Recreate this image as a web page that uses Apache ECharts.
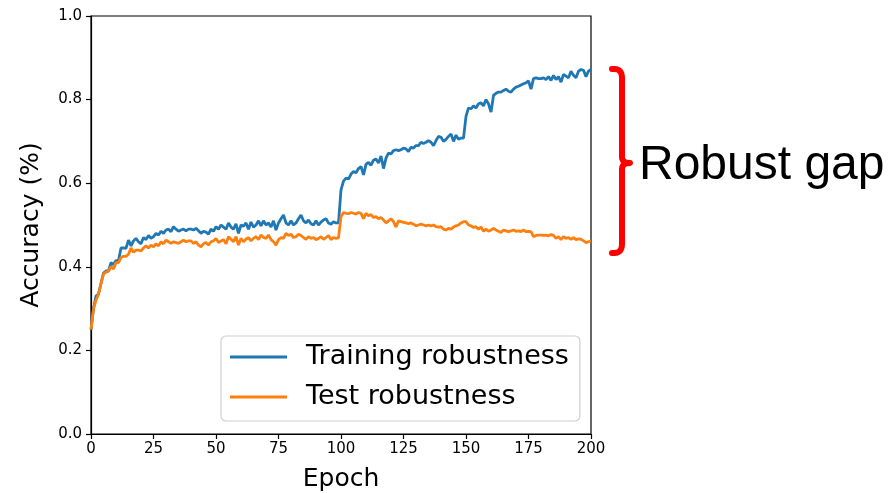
<!DOCTYPE html>
<html>
<head>
<meta charset="utf-8">
<script src="https://cdn.jsdelivr.net/npm/echarts@6/dist/echarts.min.js"></script>
<style>
  html, body { margin: 0; padding: 0; background: #fff; }
  #chart { width: 890px; height: 493px; }
</style>
</head>
<body>
<div id="chart"></div>
<script>
// Epochs 0..200
const epochs = Array.from({ length: 201 }, (_, i) => i);

const trainingRobustness = [
  0.25, 0.30, 0.33, 0.335, 0.36, 0.385, 0.39, 0.39, 0.41, 0.405,
  0.415, 0.415, 0.445, 0.445, 0.444, 0.464, 0.45, 0.462, 0.468, 0.46,
  0.455, 0.47, 0.465, 0.475, 0.468, 0.472, 0.48, 0.476, 0.485, 0.48,
  0.488, 0.49, 0.484, 0.496, 0.49, 0.485, 0.488, 0.49, 0.486, 0.49,
  0.49, 0.488, 0.492, 0.486, 0.48, 0.485, 0.483, 0.478, 0.49, 0.485,
  0.496, 0.49, 0.50, 0.495, 0.49, 0.505, 0.495, 0.49, 0.503, 0.48,
  0.50, 0.497, 0.505, 0.49, 0.507, 0.495, 0.50, 0.51, 0.498, 0.51,
  0.50, 0.505, 0.495, 0.51, 0.488, 0.505, 0.515, 0.524, 0.505, 0.50,
  0.51, 0.50, 0.505, 0.515, 0.524, 0.51, 0.505, 0.512, 0.503, 0.50,
  0.51, 0.50, 0.507, 0.512, 0.515, 0.505, 0.502, 0.508, 0.505, 0.505,
  0.584, 0.605, 0.612, 0.61, 0.622, 0.628, 0.625, 0.635, 0.64, 0.62,
  0.645, 0.65, 0.643, 0.655, 0.658, 0.648, 0.665, 0.635, 0.66, 0.672,
  0.67, 0.678, 0.68, 0.678, 0.68, 0.684, 0.682, 0.676, 0.686, 0.684,
  0.69, 0.69, 0.698, 0.695, 0.698, 0.702, 0.698, 0.69, 0.702, 0.712,
  0.71, 0.70, 0.705, 0.712, 0.718, 0.70, 0.715, 0.705, 0.708, 0.708,
  0.76, 0.78, 0.778, 0.785, 0.78, 0.79, 0.792, 0.785, 0.80, 0.79,
  0.77, 0.81, 0.815, 0.818, 0.818, 0.822, 0.825, 0.82, 0.818, 0.825,
  0.83, 0.832, 0.835, 0.838, 0.84, 0.845, 0.825, 0.85, 0.852, 0.85,
  0.85, 0.852, 0.848, 0.855, 0.846, 0.858, 0.848, 0.855, 0.842, 0.86,
  0.856, 0.852, 0.868, 0.858, 0.852, 0.868, 0.872, 0.87, 0.855, 0.868,
  0.872
];

const testRobustness = [
  0.25, 0.30, 0.32, 0.335, 0.36, 0.383, 0.387, 0.39, 0.40, 0.395,
  0.41, 0.41, 0.422, 0.425, 0.425, 0.43, 0.445, 0.435, 0.44, 0.44,
  0.438, 0.445, 0.45, 0.445, 0.452, 0.448, 0.455, 0.45, 0.46, 0.455,
  0.464, 0.46, 0.456, 0.46, 0.458, 0.456, 0.46, 0.464, 0.46, 0.462,
  0.462, 0.456, 0.46, 0.452, 0.448, 0.455, 0.458, 0.452, 0.46, 0.462,
  0.468, 0.458, 0.462, 0.465, 0.455, 0.472, 0.466, 0.46, 0.472, 0.452,
  0.468, 0.46, 0.466, 0.47, 0.462, 0.468, 0.472, 0.465, 0.476, 0.47,
  0.468, 0.476, 0.465, 0.46, 0.452, 0.465, 0.47, 0.468, 0.48, 0.475,
  0.478, 0.47, 0.472, 0.478, 0.475, 0.47, 0.466, 0.472, 0.468, 0.47,
  0.465, 0.468, 0.472, 0.466, 0.47, 0.475, 0.465, 0.47, 0.468, 0.469,
  0.52, 0.53, 0.528, 0.527, 0.53, 0.528, 0.526, 0.53, 0.528, 0.515,
  0.528, 0.522, 0.525, 0.518, 0.52, 0.515, 0.518, 0.512, 0.505, 0.51,
  0.515, 0.508, 0.495, 0.51, 0.508, 0.506, 0.505, 0.503, 0.505, 0.502,
  0.498, 0.50, 0.502, 0.50, 0.498, 0.50, 0.498, 0.50, 0.496, 0.495,
  0.496, 0.49, 0.488, 0.492, 0.49, 0.495, 0.498, 0.50, 0.505, 0.508,
  0.508, 0.50, 0.498, 0.494, 0.496, 0.49, 0.495, 0.485, 0.49, 0.485,
  0.488, 0.492, 0.488, 0.485, 0.482, 0.488, 0.486, 0.484, 0.486, 0.488,
  0.485, 0.486, 0.484, 0.488, 0.484, 0.485, 0.484, 0.472, 0.475, 0.476,
  0.476, 0.475, 0.476, 0.474, 0.477, 0.475, 0.468, 0.472, 0.465, 0.472,
  0.468, 0.47, 0.466, 0.47, 0.465, 0.467, 0.466, 0.462, 0.458, 0.46,
  0.462
];

const seriesNames = ['Training robustness', 'Test robustness'];
const seriesColors = ['#1f77b4', '#ff7f0e'];
const xTicks = { min: 0, max: 200, interval: 25 };
const yTicks = { min: 0, max: 1, interval: 0.2 };

// Sample a quadratic curve into points for the bracket outline
function quad(p0, c, p1, steps) {
  const pts = [];
  for (let i = 0; i <= steps; i++) {
    const t = i / steps, u = 1 - t;
    pts.push([u * u * p0[0] + 2 * u * t * c[0] + t * t * p1[0],
              u * u * p0[1] + 2 * u * t * c[1] + t * t * p1[1]]);
  }
  return pts;
}
const bracketPoints = [].concat(
  quad([612, 69], [622, 68], [622, 78], 8),
  quad([622, 157], [622, 163], [630, 163], 6),
  quad([630, 163], [622, 163], [622, 169], 6),
  quad([622, 244], [622, 254], [612, 253], 8)
);

const chart = echarts.init(document.getElementById('chart'), null, { renderer: 'canvas' });

const tickFont = { fontFamily: 'DejaVu Sans', fontSize: 15, color: '#000' };
const titleFont = { fontFamily: 'DejaVu Sans', fontSize: 25, color: '#000' };

chart.setOption({
  animation: false,
  backgroundColor: '#fff',
  grid: {
    left: 91, right: 299, top: 16, bottom: 59,
    outerBoundsMode: 'none',
    containLabel: false,
    show: true, borderColor: '#000', borderWidth: 1.2, backgroundColor: 'transparent'
  },
  legend: {
    data: seriesNames.map((n) => ({ name: n, icon: 'rect' })),
    orient: 'vertical',
    left: 221, top: 336,
    itemWidth: 57, itemHeight: 3,
    itemGap: 10,
    padding: [6, 11, 9, 9],
    backgroundColor: '#fff',
    borderColor: '#d0d0d0', borderWidth: 1.2, borderRadius: 5,
    textStyle: { fontFamily: 'DejaVu Sans', fontSize: 27, color: '#000', padding: [0, 0, 0, 14], lineHeight: 30 }
  },
  xAxis: {
    type: 'value',
    min: xTicks.min, max: xTicks.max, interval: xTicks.interval,
    name: 'Epoch', nameLocation: 'middle', nameGap: 33,
    nameTextStyle: titleFont,
    axisLine: { show: true, onZero: false, lineStyle: { color: '#000', width: 1.2 } },
    axisTick: { show: true, inside: false, length: 5, lineStyle: { color: '#000', width: 1.2 } },
    axisLabel: Object.assign({ margin: 8 }, tickFont),
    splitLine: { show: false }
  },
  yAxis: {
    type: 'value',
    min: yTicks.min, max: yTicks.max, interval: yTicks.interval,
    name: 'Accuracy (%)', nameLocation: 'middle', nameGap: 47,
    nameTextStyle: titleFont,
    axisLine: { show: true, onZero: false, lineStyle: { color: '#000', width: 1.2 } },
    axisTick: { show: true, inside: false, length: 5, lineStyle: { color: '#000', width: 1.2 } },
    axisLabel: Object.assign({ margin: 9, formatter: (v) => v.toFixed(1) }, tickFont),
    splitLine: { show: false }
  },
  series: [
    {
      name: seriesNames[0], type: 'line', showSymbol: false,
      data: epochs.map((e, i) => [e, trainingRobustness[i]]),
      lineStyle: { color: seriesColors[0], width: 2.8 },
      itemStyle: { color: seriesColors[0] }
    },
    {
      name: seriesNames[1], type: 'line', showSymbol: false,
      data: epochs.map((e, i) => [e, testRobustness[i]]),
      lineStyle: { color: seriesColors[1], width: 2.8 },
      itemStyle: { color: seriesColors[1] }
    }
  ],
  graphic: [
    {
      // curly bracket marking the train/test gap
      type: 'polyline',
      shape: { points: bracketPoints },
      style: { fill: null, stroke: '#ff0000', lineWidth: 6, lineCap: 'round', lineJoin: 'round' }
    },
    {
      type: 'text',
      left: 639, top: 142,
      style: { text: 'Robust gap', fontFamily: 'Liberation Sans', fontSize: 48, fill: '#000' }
    }
  ]
});
</script>
</body>
</html>
